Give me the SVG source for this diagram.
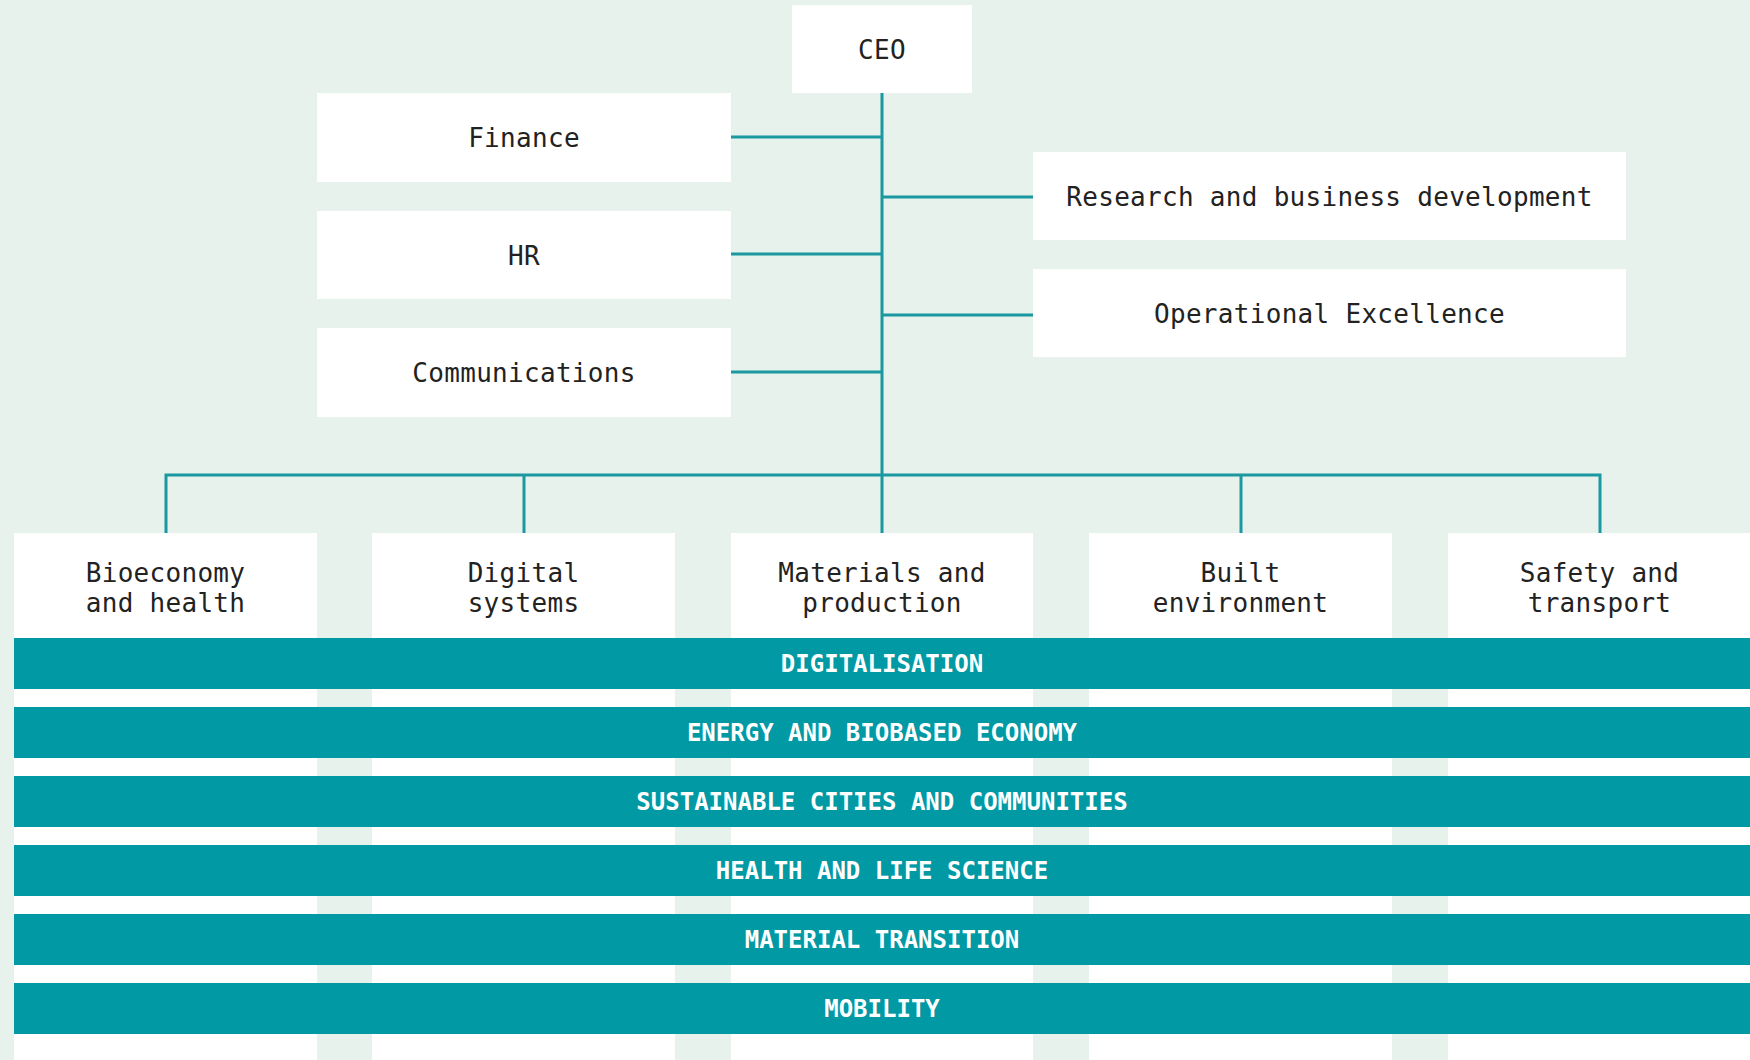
<svg xmlns="http://www.w3.org/2000/svg" width="1750" height="1060" viewBox="0 0 1750 1060">
  <style>
    .box { fill: #ffffff; }
    .label { font-family: "DejaVu Sans Mono", "Liberation Mono", monospace; font-size: 26px; fill: #222222; text-anchor: middle; letter-spacing: 0.3px; }
    .band { fill: #0099a4; }
    .band-label { font-family: "DejaVu Sans Mono", "Liberation Mono", monospace; font-size: 24px; font-weight: bold; fill: #ffffff; text-anchor: middle; }
    .link { stroke: #1b98a0; stroke-width: 3; fill: none; }
  </style>

  <!-- background -->
  <rect x="0" y="0" width="1750" height="1060" fill="#e7f2ed"/>

  <!-- connectors -->
  <g id="connectors">
    <line class="link" x1="882" y1="93" x2="882" y2="533"/>
    <line class="link" x1="731" y1="137" x2="882" y2="137"/>
    <line class="link" x1="731" y1="254" x2="882" y2="254"/>
    <line class="link" x1="731" y1="372" x2="882" y2="372"/>
    <line class="link" x1="882" y1="197" x2="1033" y2="197"/>
    <line class="link" x1="882" y1="315" x2="1033" y2="315"/>
    <polyline class="link" points="166,533 166,475 1600,475 1600,533"/>
    <line class="link" x1="524" y1="475" x2="524" y2="533"/>
    <line class="link" x1="1241" y1="475" x2="1241" y2="533"/>
  </g>

  <!-- management -->
  <g id="ceo">
    <rect class="box" x="792" y="5" width="180" height="88"/>
    <text class="label" x="882" y="58.5">CEO</text>
  </g>
  <g id="finance">
    <rect class="box" x="317" y="93" width="414" height="89"/>
    <text class="label" x="524" y="147">Finance</text>
  </g>
  <g id="hr">
    <rect class="box" x="317" y="211" width="414" height="88"/>
    <text class="label" x="524" y="264.5">HR</text>
  </g>
  <g id="communications">
    <rect class="box" x="317" y="328" width="414" height="89"/>
    <text class="label" x="524" y="382">Communications</text>
  </g>
  <g id="research">
    <rect class="box" x="1033" y="152" width="593" height="88"/>
    <text class="label" x="1329.5" y="205.5">Research and business development</text>
  </g>
  <g id="operational">
    <rect class="box" x="1033" y="269" width="593" height="88"/>
    <text class="label" x="1329.5" y="322.5">Operational Excellence</text>
  </g>

  <!-- business areas -->
  <g id="bioeconomy">
    <rect class="box" x="14" y="533" width="303" height="527"/>
    <text class="label" x="165.5" y="582">Bioeconomy</text>
    <text class="label" x="165.5" y="612">and health</text>
  </g>
  <g id="digital">
    <rect class="box" x="372" y="533" width="303" height="527"/>
    <text class="label" x="523.5" y="582">Digital</text>
    <text class="label" x="523.5" y="612">systems</text>
  </g>
  <g id="materials">
    <rect class="box" x="731" y="533" width="302" height="527"/>
    <text class="label" x="882" y="582">Materials and</text>
    <text class="label" x="882" y="612">production</text>
  </g>
  <g id="built">
    <rect class="box" x="1089" y="533" width="303" height="527"/>
    <text class="label" x="1240.5" y="582">Built</text>
    <text class="label" x="1240.5" y="612">environment</text>
  </g>
  <g id="safety">
    <rect class="box" x="1448" y="533" width="302" height="527"/>
    <text class="label" x="1599.5" y="582">Safety and</text>
    <text class="label" x="1599.5" y="612">transport</text>
  </g>

  <!-- cross-cutting themes -->
  <g id="digitalisation">
    <rect class="band" x="14" y="638" width="1736" height="51"/>
    <text class="band-label" x="882" y="672">DIGITALISATION</text>
  </g>
  <g id="energy">
    <rect class="band" x="14" y="707" width="1736" height="51"/>
    <text class="band-label" x="882" y="741">ENERGY AND BIOBASED ECONOMY</text>
  </g>
  <g id="cities">
    <rect class="band" x="14" y="776" width="1736" height="51"/>
    <text class="band-label" x="882" y="810">SUSTAINABLE CITIES AND COMMUNITIES</text>
  </g>
  <g id="health">
    <rect class="band" x="14" y="845" width="1736" height="51"/>
    <text class="band-label" x="882" y="879">HEALTH AND LIFE SCIENCE</text>
  </g>
  <g id="material-transition">
    <rect class="band" x="14" y="914" width="1736" height="51"/>
    <text class="band-label" x="882" y="948">MATERIAL TRANSITION</text>
  </g>
  <g id="mobility">
    <rect class="band" x="14" y="983" width="1736" height="51"/>
    <text class="band-label" x="882" y="1017">MOBILITY</text>
  </g>
</svg>
